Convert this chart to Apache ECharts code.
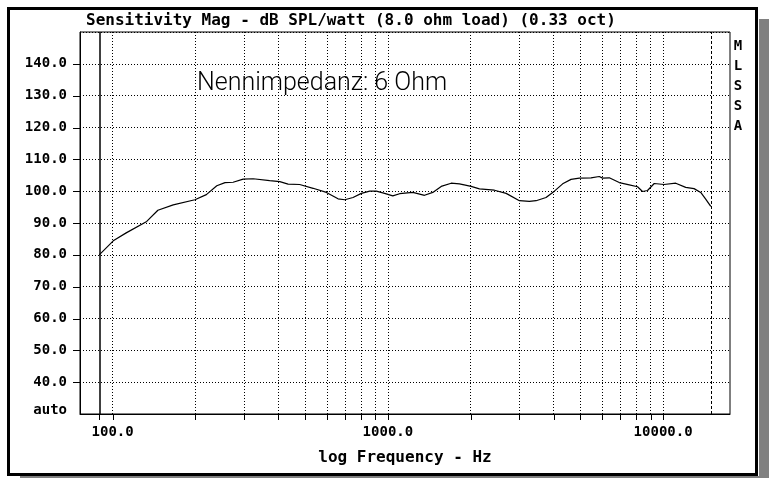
<!DOCTYPE html>
<html><head><meta charset="utf-8">
<script src="https://cdn.jsdelivr.net/npm/echarts@6/dist/echarts.min.js"></script>
<style>html,body{margin:0;padding:0;background:#fff}#c{width:771px;height:478px}</style>
</head><body><div id="c"></div>
<script>
const chartTitle = 'Sensitivity Mag - dB SPL/watt (8.0 ohm load) (0.33 oct)';
const xAxisName = 'log Frequency - Hz';
const annotation = 'Nennimpedanz: 6 Ohm';
const sideLabel = ['M', 'L', 'S', 'S', 'A'];

const freqHz = [89.4, 100.5, 112, 133, 146, 166, 199, 219, 239, 256, 274, 298, 324, 372, 405, 434, 478, 535, 598, 659, 697, 747, 801, 859, 908, 973, 1042, 1103, 1232, 1359, 1456, 1562, 1698, 1820, 2007, 2151, 2438, 2690, 3006, 3267, 3455, 3755, 4026, 4316, 4629, 4960, 5470, 5862, 6026, 6374, 6929, 7534, 8074, 8417, 8777, 9284, 10077, 11115, 12082, 12953, 13700, 14280, 14900];
const splDb = [80.0, 84.4, 86.9, 90.5, 94.0, 95.7, 97.3, 98.9, 101.7, 102.7, 102.8, 103.8, 103.9, 103.3, 103.0, 102.2, 102.1, 100.9, 99.6, 97.6, 97.3, 98.0, 99.3, 100.0, 100.0, 99.3, 98.5, 99.2, 99.6, 98.7, 99.6, 101.5, 102.5, 102.3, 101.5, 100.7, 100.3, 99.3, 97.0, 96.8, 97.0, 98.0, 100.0, 102.3, 103.7, 104.1, 104.2, 104.6, 104.1, 104.2, 102.7, 102.0, 101.4, 99.9, 100.2, 102.4, 102.1, 102.5, 101.2, 100.8, 99.6, 97.5, 95.2];

const gridFreqs = [100, 200, 300, 400, 500, 600, 700, 800, 900, 1000, 2000, 3000, 4000, 5000, 6000, 7000, 8000, 9000, 10000];
const markerStartHz = 89.4;
const markerEndHz = 15000;
const xTickFreqs = [markerStartHz].concat(gridFreqs);
const yTickValues = [40, 50, 60, 70, 80, 90, 100, 110, 120, 130, 140];
const autoLabel = 'auto';

const xMin = 76.1, xMax = 17500, yMin = 30, yMax = 150, yStep = 10;

const mono = "'DejaVu Sans Mono', 'Liberation Mono', monospace";
const chart = echarts.init(document.getElementById('c'), null, {renderer: 'canvas'});

function isDecade(v) {
  const l = Math.log10(v);
  return Math.abs(l - Math.round(l)) < 1e-6;
}

chart.setOption({
  animation: false,
  backgroundColor: '#fff',
  title: {
    text: chartTitle, left: 86, top: 13, padding: 0,
    textStyle: {fontFamily: mono, fontWeight: 'bold', fontSize: 16, color: '#000'}
  },
  grid: {left: 80, top: 32, right: 41, bottom: 64, show: true, borderColor: '#000', borderWidth: 1, backgroundColor: 'transparent'},
  xAxis: {
    type: 'log', logBase: 10, min: xMin, max: xMax,
    name: xAxisName, nameLocation: 'middle', nameGap: 36,
    nameTextStyle: {fontFamily: mono, fontWeight: 'bold', fontSize: 16, color: '#000'},
    axisLine: {show: true, lineStyle: {color: '#000', width: 1}},
    axisTick: {show: false},
    splitLine: {show: false},
    axisLabel: {
      margin: 11, showMinLabel: false, showMaxLabel: false,
      fontFamily: mono, fontWeight: 'bold', fontSize: 14, color: '#000',
      formatter: v => isDecade(v) ? Number(v).toFixed(1) : ''
    }
  },
  yAxis: {
    type: 'value', min: yMin, max: yMax, interval: yStep,
    axisLine: {show: true, lineStyle: {color: '#000', width: 1}},
    axisTick: {show: false},
    splitLine: {show: true, lineStyle: {color: '#000', width: 1, type: [1, 2]}},
    axisLabel: {
      margin: 13, fontFamily: mono, fontWeight: 'bold', fontSize: 14, color: '#000',
      formatter: v => v === yMin ? '{a|' + autoLabel + '}' : (v === yMax ? '' : Number(v).toFixed(1)),
      rich: {a: {fontFamily: mono, fontWeight: 'bold', fontSize: 14, color: '#000', padding: [0, 0, 8, 0]}}
    }
  },
  series: [
    {
      type: 'line', name: 'SPL', z: 5,
      data: freqHz.map((f, i) => [f, splDb[i]]),
      symbol: 'none', smooth: false,
      lineStyle: {color: '#000', width: 1.2},
      markLine: {
        silent: true, symbol: ['none', 'none'], label: {show: false},
        lineStyle: {color: '#000', width: 1, type: [1, 2]},
        emphasis: {disabled: true},
        data: gridFreqs.map(f => ({xAxis: f})).concat([
          {xAxis: markerStartHz, lineStyle: {color: '#000', type: 'solid', width: 1.5}},
          {xAxis: markerEndHz, lineStyle: {color: '#000', type: [3, 2], width: 1}}
        ])
      }
    },
    {
      type: 'custom', name: 'xticks', clip: false, silent: true,
      data: xTickFreqs.map(f => [f, yMin]),
      renderItem: (params, api) => {
        const p = api.coord([api.value(0), api.value(1)]);
        return {type: 'line', shape: {x1: Math.round(p[0]) + 0.5, y1: p[1], x2: Math.round(p[0]) + 0.5, y2: p[1] + 6}, style: {stroke: '#000', lineWidth: 1}};
      }
    },
    {
      type: 'custom', name: 'yticks', clip: false, silent: true,
      data: yTickValues.map(v => [xMin, v]),
      renderItem: (params, api) => {
        const p = api.coord([api.value(0), api.value(1)]);
        return {type: 'line', shape: {x1: p[0] - 7, y1: Math.round(p[1]) + 0.5, x2: p[0], y2: Math.round(p[1]) + 0.5}, style: {stroke: '#000', lineWidth: 1}};
      }
    }
  ],
  graphic: [
    {type: 'rect', silent: true, shape: {x: 759, y: 19, width: 10, height: 459}, style: {fill: '#808080'}},
    {type: 'rect', silent: true, shape: {x: 20, y: 476, width: 749, height: 2}, style: {fill: '#808080'}},
    {type: 'rect', silent: true, shape: {x: 8.5, y: 8.5, width: 748, height: 466}, style: {fill: 'none', stroke: '#000', lineWidth: 3}},
    {type: 'text', silent: true, style: {text: annotation, x: 197, y: 84, verticalAlign: 'middle', align: 'left', font: "300 25px Roboto, 'DejaVu Sans', sans-serif", fill: '#000'}},
    {type: 'text', silent: true, style: {text: sideLabel.join('\n'), x: 738, y: 36, align: 'center', verticalAlign: 'top', lineHeight: 20, font: "bold 14px " + mono, fill: '#000'}}
  ]
});
</script></body></html>
